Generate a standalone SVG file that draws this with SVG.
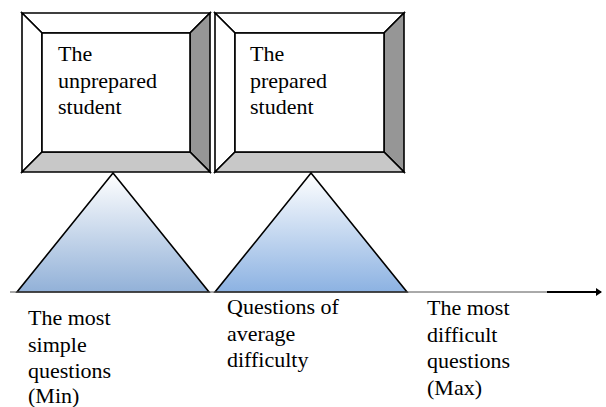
<svg xmlns="http://www.w3.org/2000/svg" width="606" height="407" viewBox="0 0 606 407">
<defs>
<linearGradient id="g1" x1="0" y1="0" x2="0" y2="1">
<stop offset="0" stop-color="#ffffff"/>
<stop offset="1" stop-color="#92b1d8"/>
</linearGradient>
<linearGradient id="g2" x1="0" y1="0" x2="0" y2="1">
<stop offset="0" stop-color="#ffffff"/>
<stop offset="1" stop-color="#8cb2e2"/>
</linearGradient>
<marker id="arr" markerWidth="6" markerHeight="8" refX="5" refY="4" orient="auto" markerUnits="userSpaceOnUse">
<path d="M0,0 L6,4 L0,8 Z" fill="#000"/>
</marker>
</defs>
<style>
text{font-family:'Liberation Serif','Times New Roman','DejaVu Serif',serif;font-size:22px;fill:#000}
.edge{stroke:#000;stroke-width:1.6;stroke-linejoin:miter}
.wh{fill:#fff}
.rt{fill:#969696}
.bt{fill:#c8c8c8}
.tri{stroke:#000;stroke-width:1.6}
</style>
<rect width="606" height="407" fill="#fff"/>
<g id="box1">
<polygon class="wh edge" points="22,13 210,13 190,33 42,33"/>
<polygon class="wh edge" points="22,13 42,33 42,152 22,172"/>
<polygon class="rt edge" points="210,13 210,172 190,152 190,33"/>
<polygon class="bt edge" points="22,172 42,152 190,152 210,172"/>
<rect class="wh edge" x="42" y="33" width="148" height="119"/>
<text font-family="Liberation Serif, serif" x="58" y="61">The</text>
<text font-family="Liberation Serif, serif" x="58" y="87.5">unprepared</text>
<text font-family="Liberation Serif, serif" x="58" y="114">student</text>
</g>
<g id="box2">
<polygon class="wh edge" points="215,13 404,13 384,33 235,33"/>
<polygon class="wh edge" points="215,13 235,33 235,152 215,172"/>
<polygon class="rt edge" points="404,13 404,172 384,152 384,33"/>
<polygon class="bt edge" points="215,172 235,152 384,152 404,172"/>
<rect class="wh edge" x="235" y="33" width="149" height="119"/>
<text font-family="Liberation Serif, serif" x="250" y="61">The</text>
<text font-family="Liberation Serif, serif" x="250" y="87.5">prepared</text>
<text font-family="Liberation Serif, serif" x="250" y="114">student</text>
</g>
<g id="tri1">
<polygon class="tri" fill="url(#g1)" points="113,173 209,292 17,292"/>
</g>
<g id="tri2">
<polygon class="tri" fill="url(#g2)" points="311,173 407,292 215,292"/>
</g>
<g id="connectors">
<line x1="10" y1="292" x2="548" y2="292" stroke="#555" stroke-width="1"/>
<line x1="547" y1="292" x2="601" y2="292" stroke="#000" stroke-width="2" marker-end="url(#arr)"/>
</g>
<g id="label-min">
<text font-family="Liberation Serif, serif" x="28" y="325">The most</text>
<text font-family="Liberation Serif, serif" x="28" y="351.5">simple</text>
<text font-family="Liberation Serif, serif" x="28" y="378">questions</text>
<text font-family="Liberation Serif, serif" x="28" y="403">(Min)</text>
</g>
<g id="label-avg">
<text font-family="Liberation Serif, serif" x="227" y="314">Questions of</text>
<text font-family="Liberation Serif, serif" x="227" y="340.5">average</text>
<text font-family="Liberation Serif, serif" x="227" y="367">difficulty</text>
</g>
<g id="label-max">
<text font-family="Liberation Serif, serif" x="427" y="315">The most</text>
<text font-family="Liberation Serif, serif" x="427" y="341.5">difficult</text>
<text font-family="Liberation Serif, serif" x="427" y="368">questions</text>
<text font-family="Liberation Serif, serif" x="427" y="394.5">(Max)</text>
</g>
</svg>
